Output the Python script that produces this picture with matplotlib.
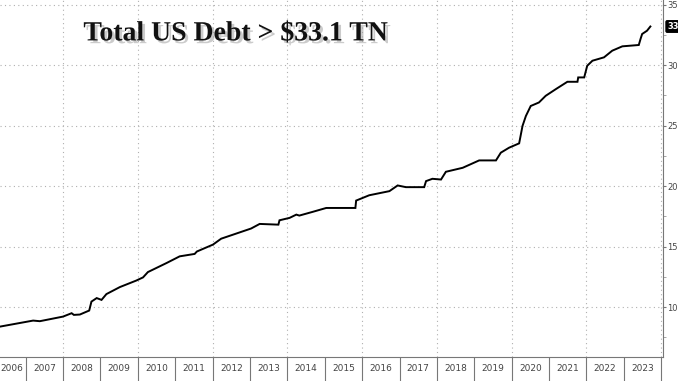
import numpy as np
import matplotlib.pyplot as plt
import matplotlib.patheffects as pe

# debt in $ trillions
years = [2006.31, 2007.20, 2007.38, 2008.00, 2008.23, 2008.29, 2008.45, 2008.70,
         2008.76, 2008.90, 2009.03, 2009.16, 2009.52, 2009.96, 2010.14, 2010.27,
         2010.77, 2011.12, 2011.52, 2011.58, 2012.01, 2012.23, 2012.63, 2013.03,
         2013.26, 2013.76, 2013.79, 2014.06, 2014.24, 2014.32, 2014.68, 2015.04,
         2015.82, 2015.84, 2016.19, 2016.73, 2016.95, 2017.17, 2017.66, 2017.71,
         2017.88, 2018.11, 2018.24, 2018.69, 2019.13, 2019.58, 2019.71, 2019.93,
         2020.20, 2020.29, 2020.38, 2020.51, 2020.73, 2020.91, 2021.18, 2021.49,
         2021.76, 2021.78, 2021.94, 2022.02, 2022.16, 2022.47, 2022.69, 2022.96,
         2023.40, 2023.45, 2023.49, 2023.62, 2023.71]
debt = [8.39, 8.89, 8.84, 9.22, 9.50, 9.36, 9.39, 9.72,
        10.46, 10.75, 10.60, 11.08, 11.66, 12.20, 12.46, 12.90,
        13.65, 14.20, 14.40, 14.60, 15.17, 15.66, 16.08, 16.50,
        16.88, 16.82, 17.18, 17.38, 17.65, 17.57, 17.88, 18.20,
        18.20, 18.81, 19.25, 19.59, 20.06, 19.92, 19.92, 20.42,
        20.61, 20.55, 21.19, 21.52, 22.13, 22.13, 22.77, 23.18,
        23.54, 24.98, 25.80, 26.63, 26.92, 27.47, 28.02, 28.63,
        28.63, 28.99, 28.99, 29.95, 30.37, 30.65, 31.20, 31.56,
        31.67, 32.20, 32.58, 32.85, 33.20]
year_labels = [str(y) for y in range(2006, 2024)]
yticks = [10, 15, 20, 25, 30, 35]
title = 'Total US Debt > $33.1 TN'
last_label = '33'

fig = plt.figure(figsize=(6.78, 3.81), dpi=100)
ax = fig.add_axes([0, 0.063, 0.978, 0.937])

ax.plot(years, debt, color='black', lw=1.4, solid_joinstyle='miter')

ax.set_xlim(2006.314, 2024.05)
ax.set_ylim(5.88, 35.39)

# x axis: separators at year boundaries, labels centred in each year
ax.set_xticks(np.arange(2007, 2025))
ax.set_xticklabels([])
label_pos = np.arange(2006.5, 2024)
label_pos[0] = 2006.62  # first year is only partly shown
ax.set_xticks(label_pos, minor=True)
ax.set_xticklabels(year_labels, minor=True)
ax.tick_params(axis='x', which='major', length=17, width=0.8, color='#777777', direction='out')
ax.tick_params(axis='x', which='minor', length=0, pad=5, labelsize=6.5, labelcolor='#444444')

# y axis on the right
ax.yaxis.tick_right()
ax.set_yticks(yticks)
ax.set_yticks(np.arange(7.5, 35, 5), minor=True)
ax.tick_params(axis='y', which='major', length=2.5, width=0.8, color='#777777', pad=0.5,
               labelsize=6, labelcolor='#444444')
ax.tick_params(axis='y', which='minor', length=2, width=0.6, color='#999999')

for y in yticks:
    ax.axhline(y, color='#b0b0b0', lw=0.8, ls=(0, (1, 3)), zorder=0)
for x in range(2008, 2025, 2):
    ax.axvline(x, color='#b0b0b0', lw=0.8, ls=(0, (1, 3)), zorder=0)

for s in ['left', 'top']:
    ax.spines[s].set_visible(False)
for s in ['right', 'bottom']:
    ax.spines[s].set_color('#777777')
    ax.spines[s].set_linewidth(0.8)

ax.text(0.355, 0.905, title, transform=ax.transAxes, ha='center', va='center',
        fontsize=20, fontweight='bold', family='Liberation Serif', color='#111111',
        path_effects=[pe.withSimplePatchShadow(offset=(2, -2), shadow_rgbFace='#999999', alpha=0.5)])

ax.annotate(last_label, xy=(1.0, debt[-1]), xycoords=('axes fraction', 'data'),
            xytext=(3, 0), textcoords='offset points', va='center', ha='left',
            fontsize=6, color='white', fontweight='bold',
            bbox=dict(boxstyle='round,pad=0.15', fc='black', ec='black'),
            annotation_clip=False)

fig.savefig('out.png', dpi=100)
